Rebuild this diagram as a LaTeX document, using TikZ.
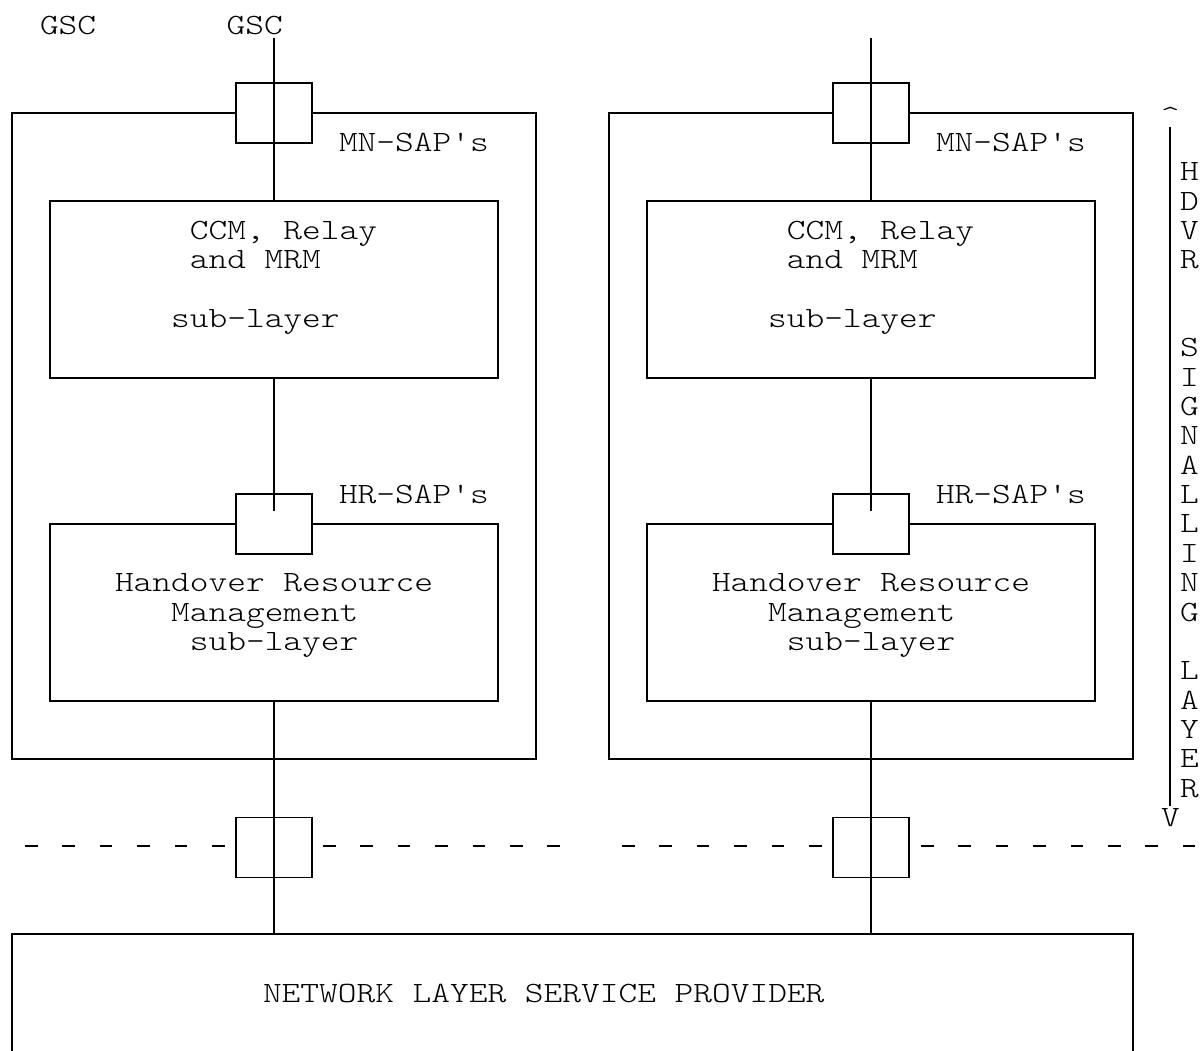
\documentclass[tikz,border=0pt]{standalone}
\usepackage{fontspec}
\setmonofont{lmmonolt10-regular.otf}[FakeStretch=1.21]
\begin{document}
\begin{tikzpicture}[x=1pt,y=-1pt,
  box/.style={draw, line width=1.9pt, inner sep=0pt, outer sep=0pt, rectangle},
  sap/.style={box, fill=white, minimum width=76pt, minimum height=60pt},
  sub/.style={box, minimum width=448pt, minimum height=177pt},
  outer/.style={box, minimum width=524pt, minimum height=646pt},
  txt/.style={font=\ttfamily\fontsize{29.46}{29.4}\selectfont, inner sep=0pt, outer sep=0pt, anchor=base west},
  wire/.style={line width=1.9pt},
  dashln/.style={line width=1.9pt, dash pattern=on 12.5pt off 24.9pt}]
\useasboundingbox (0,0) rectangle (1201,1050);
\fill[white] (0,0) rectangle (1201,1050);
\clip (0,0) rectangle (1201,1050);

% ---------- left column ----------
\node[outer] (outerL) at (274,436) {};
\node[sap] (sapTopL) at (274,113) {};
\node[sub] (ccmL) at (274,289.5) {};
\node[sub] (hrmL) at (274,612.5) {};
\node[sap] (hrsapL) at (274,524) {};
\node[sap] (sapBotL) at (274,847.5) {};

% ---------- right column ----------
\node[outer] (outerR) at (871,436) {};
\node[sap] (sapTopR) at (871,113) {};
\node[sub] (ccmR) at (871,289.5) {};
\node[sub] (hrmR) at (871,612.5) {};
\node[sap] (hrsapR) at (871,524) {};
\node[sap] (sapBotR) at (871,847.5) {};

% ---------- network layer box ----------
\node[box, minimum width=1121pt, minimum height=180pt] (nlsp) at (572.5,1024) {};

% ---------- wires ----------
\coordinate (topL) at (274,38);
\coordinate (topR) at (871,38);
\coordinate (hrEndL) at (274,511);
\coordinate (hrEndR) at (871,511);
\draw[wire] (topL) -- (ccmL.north);
\draw[wire] (topR) -- (ccmR.north);
\draw[wire] (ccmL.south) -- (hrEndL);
\draw[wire] (ccmR.south) -- (hrEndR);
\draw[wire] (hrmL.south) -- (hrmL.south |- nlsp.north);
\draw[wire] (hrmR.south) -- (hrmR.south |- nlsp.north);

% ---------- dashed service boundary ----------
\coordinate (d1a) at (25,846);
\coordinate (d1b) at (225,846);
\coordinate (d2a) at (323,846);
\coordinate (d2b) at (560,846);
\coordinate (d3a) at (622,846);
\coordinate (d3b) at (822,846);
\coordinate (d4a) at (921,846);
\coordinate (d4b) at (1196,846);
\draw[dashln] (d1a) -- (d1b);
\draw[dashln] (d2a) -- (d2b);
\draw[dashln] (d3a) -- (d3b);
\draw[dashln] (d4a) -- (d4b);

% ---------- texts ----------
\node[txt] (gsc1) at (40,34) {GSC};
\node[txt] (gsc2) at (226.6,34) {GSC};

\node[txt] (mnL) at (339,151.4) {MN-SAP's};
\node[txt] (mnR) at (936,151.4) {MN-SAP's};
\node[txt] (hrL) at (339,503.6) {HR-SAP's};
\node[txt] (hrR) at (936,503.6) {HR-SAP's};

\node[txt] (ccm1L) at (189.9,239.45) {CCM, Relay};
\node[txt] (ccm2L) at (189.9,268.8) {and MRM};
\node[txt] (ccm3L) at (171.2,327.5) {sub-layer};
\node[txt] (ccm1R) at (786.9,239.45) {CCM, Relay};
\node[txt] (ccm2R) at (786.9,268.8) {and MRM};
\node[txt] (ccm3R) at (768.2,327.5) {sub-layer};

\node[txt] (hrm1L) at (115,591.65) {Handover Resource};
\node[txt] (hrm2L) at (171.2,621) {Management};
\node[txt] (hrm3L) at (189.9,650.35) {sub-layer};
\node[txt] (hrm1R) at (712,591.65) {Handover Resource};
\node[txt] (hrm2R) at (768.2,621) {Management};
\node[txt] (hrm3R) at (786.9,650.35) {sub-layer};

\node[txt] (nlspText) at (263,1002.55) {NETWORK LAYER SERVICE PROVIDER};

% ---------- HDVR signalling layer indicator ----------
\node[txt] (caret) at (1161,125) {\char"5E};
\node[txt] (vee) at (1161,826.45) {V};
\coordinate (hdTop) at (1170,127);
\coordinate (hdBot) at (1170,806);
\draw[wire] (hdTop) -- (hdBot);
\foreach \ch/\r in {H/5,D/6,V/7,R/8,S/11,I/12,G/13,N/14,A/15,L/16,L/17,I/18,N/19,G/20,L/22,A/23,Y/24,E/25,R/26}
  \node[txt] (lt\r) at (1180,{34+29.35*\r}) {\ch};
\end{tikzpicture}
\end{document}
